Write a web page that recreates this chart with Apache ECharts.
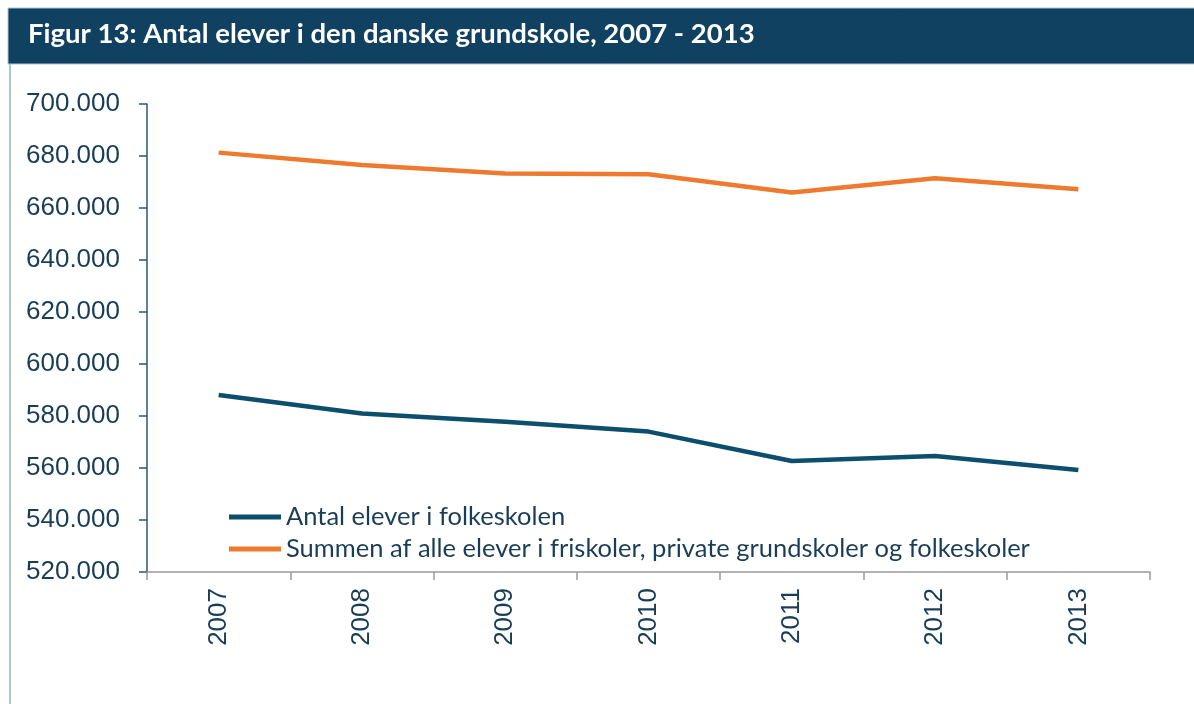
<!DOCTYPE html>
<html>
<head>
<meta charset="utf-8">
<script src="https://cdn.jsdelivr.net/npm/echarts@6/dist/echarts.min.js"></script>
<style>
  html, body { margin: 0; padding: 0; background: #fff; }
  #chart { width: 1194px; height: 704px; }
</style>
</head>
<body>
<div id="chart"></div>
<script>
// data
const years = ['2007', '2008', '2009', '2010', '2011', '2012', '2013'];
const folkeskolen = [588100, 581000, 577800, 574000, 562700, 564600, 559200];
const summen = [681300, 676500, 673300, 673000, 666000, 671400, 667200];
const seriesNames = ['Antal elever i folkeskolen', 'Summen af alle elever i friskoler, private grundskoler og folkeskoler'];
const titleText = 'Figur 13: Antal elever i den danske grundskole, 2007 - 2013';

const navy = '#1a3d57';

let chart = echarts.init(document.getElementById('chart'));

// tusindtalsseparator med punktum
const fmt = (v) => String(v).replace(/\B(?=(\d{3})+(?!\d))/g, '.');

chart.setOption({
    animation: false,
    title: {
        text: titleText,
        left: 23,
        top: 15,
        textStyle: {
            color: '#fff',
            fontFamily: 'Lato',
            fontWeight: 'bold',
            fontSize: 27.5
        }
    },
    graphic: [{
        type: 'rect',
        z: -1,
        shape: { x: 8, y: 8, width: 1190, height: 56 },
        style: { fill: '#104161', stroke: '#a9c6d8', lineWidth: 1 }
    }, {
        type: 'line',
        shape: { x1: 10, y1: 64, x2: 10, y2: 704 },
        style: { stroke: '#a9c6d8', lineWidth: 2 }
    }],
    legend: {
        orient: 'vertical',
        left: 224,
        top: 499,
        icon: 'rect',
        itemWidth: 52,
        itemHeight: 5,
        itemGap: 6,
        textStyle: {
            color: navy,
            fontFamily: 'Lato',
            fontSize: 25.5
        },
        data: seriesNames
    },
    grid: {
        left: 147,
        right: 44,
        top: 104,
        bottom: 132
    },
    xAxis: {
        type: 'category',
        boundaryGap: true,
        data: years,
        axisLine: { lineStyle: { color: '#9a9a9a', width: 1.5 } },
        axisTick: { show: true, length: 8, lineStyle: { color: '#9a9a9a', width: 1.5 } },
        axisLabel: {
            rotate: 90,
            interval: 0,
            margin: 16,
            color: navy,
            fontFamily: 'Liberation Sans',
            fontSize: 26
        }
    },
    yAxis: {
        type: 'value',
        min: 520000,
        max: 700000,
        interval: 20000,
        splitLine: { show: false },
        axisLine: { show: true, lineStyle: { color: '#2a5672', width: 1.5 } },
        axisTick: { show: true, length: 8, lineStyle: { color: '#2a5672', width: 1.5 } },
        axisLabel: {
            margin: 27,
            color: navy,
            fontFamily: 'Liberation Sans',
            fontSize: 26,
            formatter: fmt
        }
    },
    series: [{
        name: seriesNames[0],
        type: 'line',
        data: folkeskolen,
        symbol: 'none',
        lineStyle: { color: '#0d4d6d', width: 4.5 },
        itemStyle: { color: '#0d4d6d' }
    }, {
        name: seriesNames[1],
        type: 'line',
        data: summen,
        symbol: 'none',
        lineStyle: { color: '#ee7a2f', width: 4.5 },
        itemStyle: { color: '#ee7a2f' }
    }]
});
</script>
</body>
</html>
